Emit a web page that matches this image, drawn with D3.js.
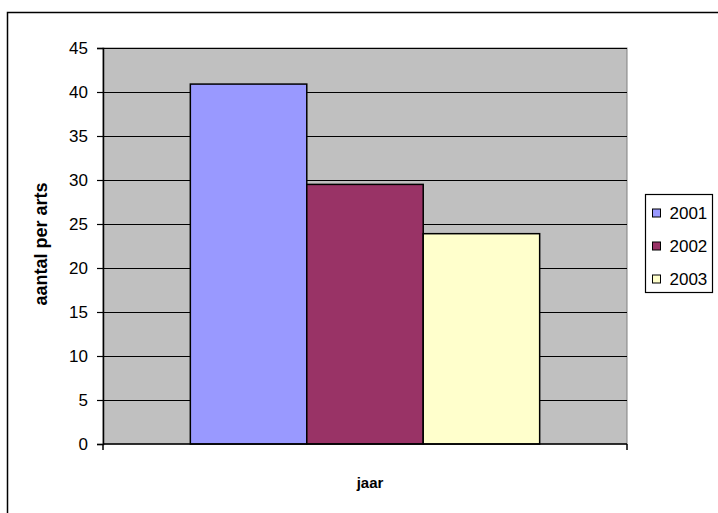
<!DOCTYPE html>
<html>
<head>
<meta charset="utf-8">
<script src="https://cdn.jsdelivr.net/npm/d3@7"></script>
<style>
    body { margin: 0; background: #fff; }
    text { font-family: Arial, "Liberation Sans", sans-serif; }
</style>
</head>
<body>
<svg width="718" height="513"></svg>
<script>
//--------------------------DATA------------------------------------------------
var categories = ["jaar"];
var years = ["2001", "2002", "2003"];
var values = [40.9, 29.5, 23.9];
var colors = ["#9999FF", "#993366", "#FFFFCC"];
var yTicks = [0, 5, 10, 15, 20, 25, 30, 35, 40, 45];

//--------------------------LAYOUT----------------------------------------------
var svg = d3.select("svg");
var plot = { left: 103, right: 627, top: 48, bottom: 444 };

// outer chart border (right/bottom fall off the picture)
svg.append("rect")
    .attr("x", 7.5).attr("y", 12.5)
    .attr("width", 730).attr("height", 520)
    .style("fill", "none")
    .style("stroke", "#000")
    .style("stroke-width", 1.5);

// scales
var x = d3.scaleBand().domain(categories)
    .range([plot.left, plot.right])
    .paddingInner(0).paddingOuter(0.25);
var xs = d3.scaleBand().domain(years).range([0, x.bandwidth()]);
var y = d3.scaleLinear().domain([0, 45]).range([plot.bottom, plot.top]);

// plot area
svg.append("rect")
    .attr("x", plot.left).attr("y", plot.top)
    .attr("width", plot.right - plot.left)
    .attr("height", plot.bottom - plot.top)
    .style("fill", "#C0C0C0")
    .style("stroke", "#808080")
    .style("stroke-width", 1);

// gridlines
svg.selectAll(".grid")
    .data(yTicks.filter(function(d) { return d > 0; }))
    .enter().append("line")
    .attr("x1", plot.left).attr("x2", plot.right)
    .attr("y1", function(d) { return Math.round(y(d)) + 0.5; })
    .attr("y2", function(d) { return Math.round(y(d)) + 0.5; })
    .style("stroke", "#000")
    .style("stroke-width", 1);

// bars
svg.selectAll(".bar")
    .data(values)
    .enter().append("rect")
    .attr("x", function(d, i) { return x(categories[0]) + xs(years[i]); })
    .attr("y", function(d) { return y(d); })
    .attr("width", xs.bandwidth())
    .attr("height", function(d) { return y(0) - y(d); })
    .style("fill", function(d, i) { return colors[i]; })
    .style("stroke", "#000")
    .style("stroke-width", 1.5);

// y axis
var yAxis = svg.append("g")
    .attr("transform", "translate(" + plot.left + ",0)")
    .call(d3.axisLeft(y).tickValues(yTicks).tickSize(6).tickPadding(9));
yAxis.select(".domain").style("stroke", "#000").style("stroke-width", 1.5);
yAxis.selectAll(".tick line").style("stroke", "#000").style("stroke-width", 1.2);
yAxis.selectAll("text").style("font-size", "17px").style("fill", "#000")
    .style("font-family", "Arial, 'Liberation Sans', sans-serif");

// x axis: just the line and two tick marks at the plot edges
svg.append("line")
    .attr("x1", plot.left).attr("x2", plot.right)
    .attr("y1", plot.bottom).attr("y2", plot.bottom)
    .style("stroke", "#000").style("stroke-width", 1.5);
svg.selectAll(".xtick")
    .data([x.range()[0], x.range()[1]])
    .enter().append("line")
    .attr("x1", function(d) { return d; }).attr("x2", function(d) { return d; })
    .attr("y1", plot.bottom).attr("y2", plot.bottom + 6)
    .style("stroke", "#000").style("stroke-width", 1.5);

// axis titles
svg.append("text")
    .attr("x", (plot.left + plot.right) / 2 + 5)
    .attr("y", 488)
    .style("text-anchor", "middle")
    .style("font-weight", "bold")
    .style("font-size", "15px")
    .text("jaar");
svg.append("text")
    .attr("transform", "translate(47,244) rotate(-90)")
    .style("text-anchor", "middle")
    .style("font-weight", "bold")
    .style("font-size", "18px")
    .text("aantal per arts");

// legend
var legend = { x: 645.5, y: 194.5, w: 67, h: 98, step: 33 };
svg.append("rect")
    .attr("x", legend.x).attr("y", legend.y)
    .attr("width", legend.w).attr("height", legend.h)
    .style("fill", "#fff")
    .style("stroke", "#000")
    .style("stroke-width", 1.2);
var items = svg.selectAll(".legend")
    .data(years)
    .enter().append("g")
    .attr("transform", function(d, i) {
        return "translate(" + legend.x + "," + (legend.y + 18.5 + i * legend.step) + ")";
    });
items.append("rect")
    .attr("x", 7).attr("y", -4)
    .attr("width", 8).attr("height", 8)
    .style("fill", function(d, i) { return colors[i]; })
    .style("stroke", "#000")
    .style("stroke-width", 1);
items.append("text")
    .attr("x", 24).attr("y", 6)
    .style("font-size", "17px")
    .text(function(d) { return d; });
</script>
</body>
</html>
